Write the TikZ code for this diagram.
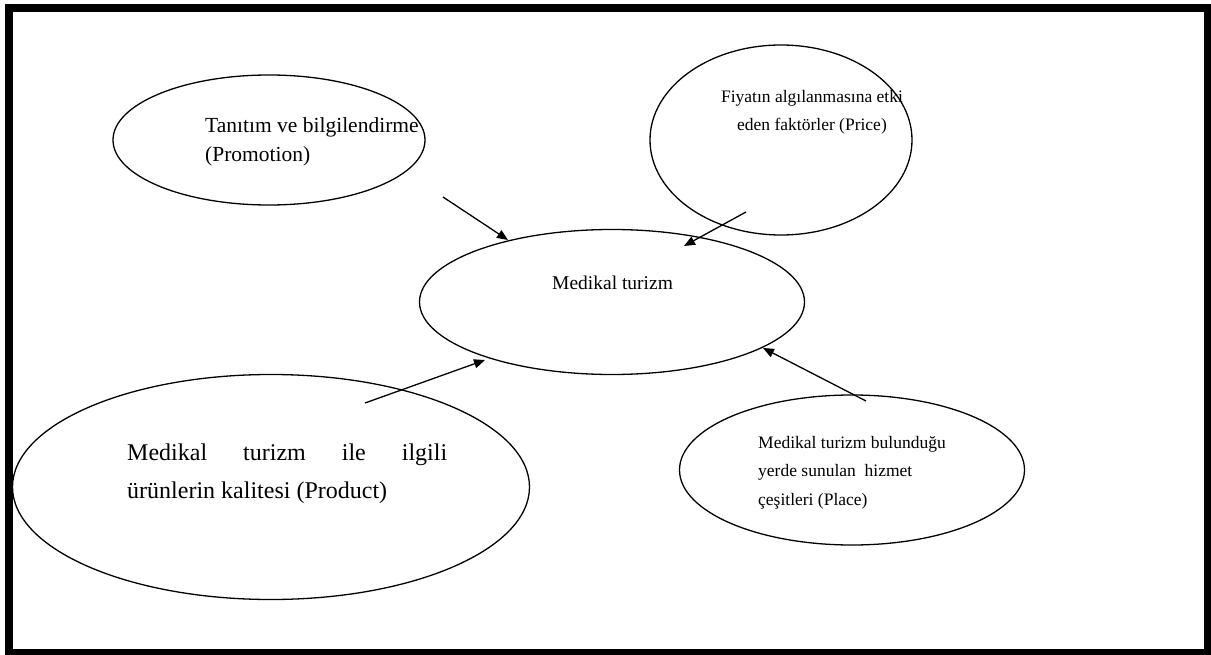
\documentclass[tikz,border=0pt]{standalone}
\usepackage{fontspec}
\setmainfont{Liberation Serif}
\usetikzlibrary{shapes.geometric,arrows.meta}
\tikzset{
  oval/.style={ellipse, draw, line width=1.3pt, inner sep=0pt},
  lbl/.style={anchor=base west, inner sep=0pt, align=left},
  conn/.style={line width=1.3pt, -{Triangle[length=11pt,width=9pt]}}
}
\begin{document}
\begin{tikzpicture}[x=1pt,y=-1pt]
\useasboundingbox (0,0) rectangle (1211,655);
\draw[line width=8pt] (9,8) rectangle (1208,653);
% ellipses
\node[oval, minimum width=312pt, minimum height=130pt] (promo) at (269,140) {};
\node[oval, minimum width=262pt, minimum height=190pt] (price) at (781,140) {};
\node[oval, minimum width=385pt, minimum height=145pt] (med) at (612,302) {};
\node[oval, minimum width=517pt, minimum height=225pt] (prod) at (271,487) {};
\node[oval, minimum width=345pt, minimum height=150pt] (place) at (852,470) {};
% texts (base = baseline of last line)
\node[lbl, font=\fontsize{21.5}{29}\selectfont] (tpromo) at (205,162) {Tanıtım ve bilgilendirme\\(Promotion)};
\node[lbl, anchor=base, align=center, font=\fontsize{17.5}{28}\selectfont] (tprice) at (812,131) {Fiyatın algılanmasına etki\\eden faktörler (Price)};
\node[lbl, font=\fontsize{19.5}{24}\selectfont] (tmed) at (552,290) {Medikal turizm};
\node[lbl, font=\fontsize{24}{38}\selectfont] (tprod) at (127,498) {\hbox to 320pt{Medikal\hfill turizm\hfill ile\hfill ilgili}\\ürünlerin kalitesi (Product)};
\node[lbl, font=\fontsize{17.5}{28.5}\selectfont] (tplace) at (758,505) {Medikal turizm bulunduğu\\yerde sunulan\ \ hizmet\\çeşitleri (Place)};
% connector ends
\coordinate (a1) at (443,197); \coordinate (a2) at (508,240);
\coordinate (b1) at (746,212); \coordinate (b2) at (684,246);
\coordinate (c1) at (365,403); \coordinate (c2) at (485,360);
\coordinate (d1) at (866,401); \coordinate (d2) at (763,348);
\draw[conn] (a1) -- (a2);
\draw[conn] (b1) -- (b2);
\draw[conn] (c1) -- (c2);
\draw[conn] (d1) -- (d2);
\end{tikzpicture}
\end{document}
